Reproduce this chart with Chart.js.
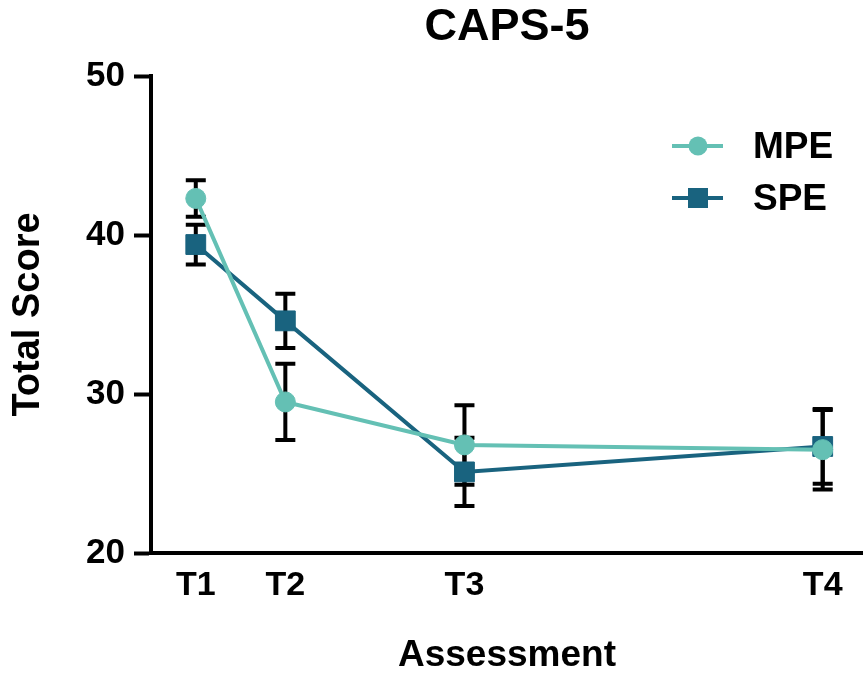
<!DOCTYPE html>
<html>
<head>
<meta charset="utf-8">
<title>CAPS-5</title>
<script src="https://cdn.jsdelivr.net/npm/chart.js@4.4.1/dist/chart.umd.min.js"></script>
<style>
    html, body { margin: 0; padding: 0; background: #fff; }
    #wrap { position: relative; width: 863px; height: 675px; }
    #legend {
        position: absolute; left: 672px; top: 120px;
        font-family: 'Liberation Sans', Arial, sans-serif;
        font-weight: bold; font-size: 37px; color: #000;
    }
    .legend-item { display: flex; align-items: center; height: 52px; }
    .swatch { position: relative; width: 51px; height: 22px; margin-right: 30px; }
    .swatch .line { position: absolute; left: 0; right: 0; top: 9px; height: 4px; }
    .swatch .mark { position: absolute; left: 50%; top: 50%; transform: translate(-50%, -50%); }
</style>
</head>
<body>
<div id="wrap">
    <canvas id="capsChart" width="863" height="675"></canvas>
    <div id="legend"></div>
</div>
<script>
// data
const timepoints = ['T1', 'T2', 'T3', 'T4'];
const weeks = [0, 1, 3, 7];

const mpeMean = [42.3, 29.5, 26.8, 26.5];
const mpeSem = [1.15, 2.4, 2.5, 2.5];

const speMean = [39.4, 34.6, 25.1, 26.7];
const speSem = [1.25, 1.7, 2.15, 2.35];

const yTicks = [20, 30, 40, 50];

const MPE_COLOR = '#64C0B4';
const SPE_COLOR = '#19637F';
const FONT = "'Liberation Sans', Arial, sans-serif";

function toPoints(means) {
    return means.map((v, i) => ({ x: weeks[i], y: v }));
}

// error bar (SEM) digambar di belakang garis
const errorBars = {
    id: 'errorBars',
    beforeDatasetsDraw(chart) {
        const ctx = chart.ctx;
        const yScale = chart.scales.y;
        ctx.save();
        ctx.strokeStyle = '#000';
        ctx.lineWidth = 4;
        ctx.lineCap = 'butt';
        chart.data.datasets.forEach((ds, i) => {
            const meta = chart.getDatasetMeta(i);
            meta.data.forEach((pt, j) => {
                const mean = ds.data[j].y;
                const top = yScale.getPixelForValue(mean + ds.sem[j]);
                const bottom = yScale.getPixelForValue(mean - ds.sem[j]);
                ctx.beginPath();
                ctx.moveTo(pt.x, top);
                ctx.lineTo(pt.x, bottom);
                ctx.moveTo(pt.x - 10, top);
                ctx.lineTo(pt.x + 10, top);
                ctx.moveTo(pt.x - 10, bottom);
                ctx.lineTo(pt.x + 10, bottom);
                ctx.stroke();
            });
        });
        ctx.restore();
    }
};

const ctx = document.getElementById('capsChart').getContext('2d');

const chart = new Chart(ctx, {
    type: 'line',
    data: {
        datasets: [{
            label: 'MPE',
            data: toPoints(mpeMean),
            sem: mpeSem,
            borderColor: MPE_COLOR,
            backgroundColor: MPE_COLOR,
            borderWidth: 4,
            pointStyle: 'circle',
            pointRadius: 10,
            pointBorderWidth: 1,
            pointBorderColor: MPE_COLOR,
            pointBackgroundColor: MPE_COLOR,
            tension: 0
        }, {
            label: 'SPE',
            data: toPoints(speMean),
            sem: speSem,
            borderColor: SPE_COLOR,
            backgroundColor: SPE_COLOR,
            borderWidth: 4,
            pointStyle: 'rect',
            pointRadius: 14,
            pointBorderWidth: 1,
            pointBorderColor: SPE_COLOR,
            pointBackgroundColor: SPE_COLOR,
            tension: 0
        }]
    },
    options: {
        responsive: false,
        animation: false,
        devicePixelRatio: 1,
        events: [],
        layout: { padding: 0, autoPadding: false },
        plugins: {
            legend: { display: false },
            tooltip: { enabled: false },
            title: {
                display: true,
                text: 'CAPS-5',
                fullSize: false,
                color: '#000',
                font: { family: FONT, size: 45, weight: 'bold' },
                padding: { top: 1, bottom: 21 }
            }
        },
        scales: {
            x: {
                type: 'linear',
                min: -0.5,
                max: 7.45,
                afterBuildTicks: (scale) => {
                    scale.ticks = weeks.map(w => ({ value: w }));
                },
                afterFit: (scale) => {
                    scale.height = 122;
                    scale.paddingLeft = 0;
                    scale.paddingRight = 0;
                },
                ticks: {
                    callback: (value, index) => timepoints[index],
                    color: '#000',
                    font: { family: FONT, size: 34, weight: 'bold' },
                    padding: 12,
                    maxRotation: 0,
                    autoSkip: false
                },
                grid: { display: false, drawTicks: false },
                border: { color: '#000', width: 4 },
                title: {
                    display: true,
                    text: 'Assessment',
                    color: '#000',
                    font: { family: FONT, size: 37, weight: 'bold', lineHeight: 1.05 },
                    padding: { top: 0, bottom: 0 }
                }
            },
            y: {
                min: 20,
                max: 50,
                afterBuildTicks: (scale) => {
                    scale.ticks = yTicks.map(v => ({ value: v }));
                },
                afterFit: (scale) => { scale.width = 151; },
                ticks: {
                    color: '#000',
                    font: { family: FONT, size: 35, weight: 'bold' },
                    padding: 9
                },
                grid: {
                    drawOnChartArea: false,
                    drawTicks: true,
                    tickLength: 17,
                    tickWidth: 4,
                    tickColor: '#000'
                },
                border: { color: '#000', width: 4 },
                title: {
                    display: true,
                    text: 'Total Score',
                    color: '#000',
                    font: { family: FONT, size: 38, weight: 'bold' },
                    padding: { top: 6, bottom: 0 }
                }
            }
        }
    },
    plugins: [errorBars]
});

// legend html di kanan atas
function buildLegend(chart) {
    const box = document.getElementById('legend');
    box.innerHTML = '';
    chart.data.datasets.forEach(ds => {
        const item = document.createElement('div');
        item.className = 'legend-item';
        const isRect = ds.pointStyle === 'rect';
        const size = isRect ? 20 : 19;
        item.innerHTML = `
            <span class="swatch">
                <span class="line" style="background:${ds.borderColor}"></span>
                <span class="mark" style="width:${size}px;height:${size}px;background:${ds.pointBackgroundColor};border-radius:${isRect ? 0 : '50%'}"></span>
            </span>
            <span>${ds.label}</span>
        `;
        box.appendChild(item);
    });
}

buildLegend(chart);
</script>
</body>
</html>
